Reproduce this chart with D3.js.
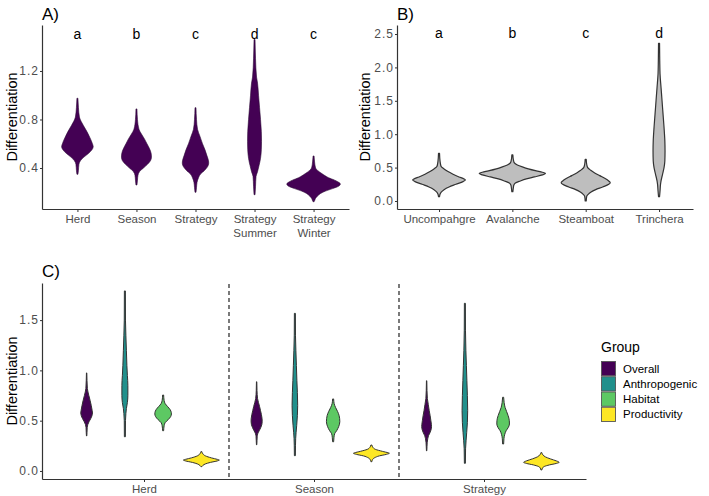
<!DOCTYPE html>
<html><head><meta charset="utf-8">
<script src="https://cdn.jsdelivr.net/npm/d3@7"></script>
<style>
body{margin:0;background:#fff}
text{font-family:"Liberation Sans",Arial,sans-serif}
</style></head><body>
<svg id="c" width="709" height="496"></svg>
<script>
// ---------- Panel A data ----------
const catsA = ["Herd", "Season", "Strategy", "Strategy\nSummer", "Strategy\nWinter"];
const lettersA = ["a", "b", "c", "d", "c"];
const ticksA = [0.4, 0.8, 1.2];
// violin profiles: [value, density(half width)]
const violinHerd = [[0.975,0.5],[0.90,1],[0.82,2],[0.75,6],[0.70,9.5],[0.65,12.5],[0.60,15],[0.576,15.8],[0.55,14.5],[0.52,11],[0.49,6.5],[0.46,3],[0.43,1.5],[0.38,1],[0.348,0.5]];
const violinSeason = [[0.887,0.5],[0.80,1],[0.72,2.5],[0.68,5],[0.64,8],[0.60,10.5],[0.56,13],[0.52,14.7],[0.49,15],[0.46,14],[0.43,11],[0.40,7],[0.37,3],[0.34,1.5],[0.30,1],[0.26,0.5]];
const violinStrategy = [[0.897,0.5],[0.80,1],[0.72,2],[0.66,4.5],[0.60,7],[0.55,9.5],[0.50,11.5],[0.46,13],[0.44,13.2],[0.41,12],[0.38,9],[0.35,5],[0.32,3],[0.28,1.5],[0.24,1],[0.20,0.5]];
const violinSummer = [[1.46,0.5],[1.30,1],[1.15,2],[1.10,3],[1.00,4],[0.90,5],[0.80,6],[0.70,6.8],[0.62,7],[0.55,6.8],[0.48,6],[0.42,4.5],[0.37,3],[0.33,1.5],[0.25,1],[0.18,0.5]];
const violinWinter = [[0.499,0.5],[0.45,1],[0.40,2],[0.38,4],[0.35,9],[0.32,15],[0.30,21],[0.28,25.5],[0.268,26.8],[0.25,25],[0.23,19],[0.21,12],[0.19,7],[0.17,4],[0.15,2],[0.13,1],[0.122,0.5]];

// ---------- Panel B data ----------
const catsB = ["Uncompahgre", "Avalanche", "Steamboat", "Trinchera"];
const lettersB = ["a", "b", "c", "d"];
const ticksB = [0, 0.5, 1.0, 1.5, 2.0, 2.5];
const violinUncompahgre = [[0.714,0.5],[0.60,1],[0.52,2],[0.48,5],[0.44,9],[0.40,14],[0.36,20],[0.33,25],[0.314,26.3],[0.29,24],[0.25,17],[0.21,10],[0.17,5],[0.13,2],[0.10,1],[0.064,0.5]];
const violinAvalanche = [[0.689,0.5],[0.62,1],[0.57,2],[0.54,5],[0.51,10],[0.48,16],[0.45,24],[0.43,30],[0.414,33.2],[0.39,30],[0.36,22],[0.33,14],[0.30,8],[0.27,3],[0.24,1.5],[0.20,1],[0.14,0.5]];
const violinSteamboat = [[0.624,0.5],[0.55,1],[0.50,2],[0.46,5],[0.42,9],[0.38,14],[0.34,19],[0.30,23],[0.274,24.5],[0.25,23],[0.21,17],[0.17,10],[0.13,5],[0.10,2.5],[0.07,1],[0.0,0.5]];
const violinTrinchera = [[2.36,0.5],[2.10,0.7],[1.90,1],[1.70,2],[1.50,3],[1.30,4],[1.10,5],[0.90,5.8],[0.75,6],[0.60,5.8],[0.50,5],[0.40,3.5],[0.30,2],[0.25,1.5],[0.15,1],[0.064,0.5]];

// ---------- Panel C data ----------
const groupsC = ["Herd", "Season", "Strategy"];
const seriesC = ["Overall", "Anthropogenic", "Habitat", "Productivity"];
const colorsC = ["#440154", "#21908C", "#5DC863", "#FDE725"];
const ticksC = [0, 0.5, 1.0, 1.5];
const overallC = [violinHerd, violinSeason, violinStrategy]; // same data as panel A
const anthroHerd = [[1.79,0.5],[1.50,0.6],[1.35,1],[1.20,1.5],[1.05,2],[0.95,2.5],[0.85,3],[0.75,3],[0.68,2.5],[0.62,1.5],[0.57,1],[0.50,0.6],[0.34,0.5]];
const anthroSeason = [[1.567,0.5],[1.35,0.6],[1.20,1],[1.05,1.5],[0.90,2],[0.78,2.5],[0.65,2.8],[0.55,2.5],[0.45,1.8],[0.38,1.2],[0.32,0.8],[0.25,0.6],[0.152,0.5]];
const anthroStrategy = [[1.667,0.5],[1.40,0.6],[1.20,1],[1.05,1.5],[0.90,2],[0.75,2.5],[0.60,2.8],[0.48,2.5],[0.38,1.8],[0.30,1.2],[0.22,0.7],[0.076,0.5]];
const habitatHerd = [[0.755,0.5],[0.70,1],[0.67,2],[0.64,4.5],[0.61,7],[0.58,8.2],[0.567,8.3],[0.54,7.5],[0.51,5],[0.48,2],[0.45,1],[0.40,0.5]];
const habitatSeason = [[0.716,0.5],[0.67,1],[0.63,2.5],[0.59,4.5],[0.55,6],[0.49,6.7],[0.44,5.5],[0.40,3.5],[0.37,1.5],[0.33,0.8],[0.29,0.5]];
const habitatStrategy = [[0.733,0.5],[0.68,1],[0.63,2],[0.59,3.5],[0.55,5],[0.50,6.2],[0.467,6.3],[0.43,5],[0.40,3],[0.36,1.5],[0.32,0.8],[0.268,0.5]];
const prodHerd = [[0.192,0.5],[0.17,1.5],[0.15,4],[0.13,10],[0.115,16],[0.109,18],[0.10,16],[0.085,9],[0.07,4],[0.055,1.5],[0.043,0.5]];
const prodSeason = [[0.258,0.5],[0.235,1.5],[0.215,4],[0.195,11],[0.18,17],[0.176,18],[0.165,15],[0.15,8],[0.13,3],[0.11,1],[0.092,0.5]];
const prodStrategy = [[0.182,0.5],[0.16,1.5],[0.14,4],[0.12,9],[0.10,15],[0.086,17.8],[0.075,15],[0.06,8],[0.045,3],[0.03,1.2],[0.01,0.5]];

// ---------- drawing ----------
const svg = d3.select("#c");
svg.append("rect").attr("width", 709).attr("height", 496).attr("fill", "#fff");
const fmt = d3.format(".1f");
const AXIS = "#333", TICKTXT = "#4D4D4D";

function styleAxis(g, isY) {
  g.select(".domain").attr("stroke", AXIS).attr("stroke-width", 1.2);
  g.selectAll(".tick line").attr("stroke", AXIS).attr("stroke-width", 1);
  const t = g.selectAll(".tick text").attr("fill", TICKTXT)
    .style("font-family", '"Liberation Sans", Arial, sans-serif');
  if (isY) t.style("font-size", "12px").style("letter-spacing", "1px");
  else t.style("font-size", "11.5px");
}
function drawViolin(g, prof, cx, y, w, fill, stroke, sw) {
  const pts = prof.slice().sort((a, b) => b[0] - a[0]);
  const area = d3.area()
    .y(d => y(d[0]))
    .x0(d => cx - w(d[1]))
    .x1(d => cx + w(d[1]))
    .curve(d3.curveMonotoneY);
  g.append("path").attr("d", area(pts)).attr("fill", fill)
    .attr("stroke", stroke).attr("stroke-width", sw).attr("stroke-linejoin", "round");
}
function yTitle(x, yc) {
  svg.append("text").attr("transform", `translate(${x},${yc}) rotate(-90)`)
    .attr("text-anchor", "middle").style("font-size", "14.5px").attr("fill", "#000")
    .text("Differentiation");
}
function tag(x, y, t) {
  svg.append("text").attr("x", x).attr("y", y).style("font-size", "17px").attr("fill", "#000").text(t);
}

// ===== Panel A =====
const xA = d3.scalePoint().domain(catsA).range([42, 349]).padding(0.6);
const yA = d3.scaleLinear().domain([0.062, 1.579]).range([209, 25]);
const wA = d3.scaleLinear().domain([0, 59]).range([0, xA.step()]);
const violinsA = [violinHerd, violinSeason, violinStrategy, violinSummer, violinWinter];
const gA = svg.append("g");
violinsA.forEach((p, i) => drawViolin(gA, p, xA(catsA[i]), yA, wA, "#440154", "#2b0a36", 0.6));
catsA.forEach((c, i) => {
  svg.append("text").attr("x", xA(c)).attr("y", yA(1.5)).attr("dy", "0.3em")
    .attr("text-anchor", "middle").style("font-size", "14px").attr("fill", "#000").text(lettersA[i]);
});
const axAy = svg.append("g").attr("transform", "translate(42,0)")
  .call(d3.axisLeft(yA).tickValues(ticksA).tickFormat(fmt).tickSize(2).tickPadding(1).tickSizeOuter(0));
styleAxis(axAy, true);
const axAx = svg.append("g").attr("transform", "translate(0,209)")
  .call(d3.axisBottom(xA).tickSize(3).tickPadding(3).tickSizeOuter(0));
styleAxis(axAx, false);
axAx.selectAll(".tick text").each(function(d) {
  const t = d3.select(this); const lines = d.split("\n"); t.text(null);
  lines.forEach((l, k) => t.append("tspan").attr("x", 0).attr("dy", k === 0 ? "0.71em" : "1.17em").text(l));
});
yTitle(17, 117);
tag(42, 20, "A)");

// ===== Panel B =====
const xB = d3.scalePoint().domain(catsB).range([397, 693]).padding(0.518).align(0.553);
const yB = d3.scaleLinear().domain([-0.12, 2.635]).range([209, 25]);
const wB = d3.scaleLinear().domain([0, 73.3]).range([0, xB.step()]);
const violinsB = [violinUncompahgre, violinAvalanche, violinSteamboat, violinTrinchera];
const gB = svg.append("g");
violinsB.forEach((p, i) => drawViolin(gB, p, xB(catsB[i]), yB, wB, "#BEBEBE", "#333", 1.2));
catsB.forEach((c, i) => {
  svg.append("text").attr("x", xB(c)).attr("y", yB(2.5)).attr("dy", "0.3em")
    .attr("text-anchor", "middle").style("font-size", "14px").attr("fill", "#000").text(lettersB[i]);
});
const axBy = svg.append("g").attr("transform", "translate(397,0)")
  .call(d3.axisLeft(yB).tickValues(ticksB).tickFormat(fmt).tickSize(2).tickPadding(1).tickSizeOuter(0));
styleAxis(axBy, true);
const axBx = svg.append("g").attr("transform", "translate(0,209)")
  .call(d3.axisBottom(xB).tickSize(3).tickPadding(3).tickSizeOuter(0));
styleAxis(axBx, false);
yTitle(370, 117);
tag(397, 20, "B)");

// ===== Panel C =====
const xC = d3.scalePoint().domain(groupsC).range([42, 586]).padding(0.6);
const yC = d3.scaleLinear().domain([-0.08, 1.869]).range([479, 283]);
const dodge = d3.scaleBand().domain(seriesC).range([-0.45 * xC.step(), 0.45 * xC.step()]);
const wC = d3.scaleLinear().domain([0, 38.25]).range([0, dodge.bandwidth()]);
const wCo = d3.scaleLinear().domain([0, 59 / 0.37]).range([0, dodge.bandwidth() * 59 / 38.25]);
const seriesProfiles = [overallC, [anthroHerd, anthroSeason, anthroStrategy],
  [habitatHerd, habitatSeason, habitatStrategy], [prodHerd, prodSeason, prodStrategy]];
const gC = svg.append("g");
groupsC.slice(0, -1).forEach(gname => {
  const xs = xC(gname) + xC.step() / 2;
  gC.append("line").attr("x1", xs).attr("x2", xs).attr("y1", 284).attr("y2", 479)
    .attr("stroke", "#333").attr("stroke-width", 1.3).attr("stroke-dasharray", "4,3");
});
groupsC.forEach((gname, gi) => {
  seriesC.forEach((s, si) => {
    const cx = xC(gname) + dodge(s) + dodge.bandwidth() / 2;
    drawViolin(gC, seriesProfiles[si][gi], cx, yC, si === 0 ? wCo : wC, colorsC[si], "#333", 1);
  });
});
const axCy = svg.append("g").attr("transform", "translate(42,0)")
  .call(d3.axisLeft(yC).tickValues(ticksC).tickFormat(fmt).tickSize(2).tickPadding(1).tickSizeOuter(0));
styleAxis(axCy, true);
const axCx = svg.append("g").attr("transform", "translate(0,479)")
  .call(d3.axisBottom(xC).tickSize(3).tickPadding(3).tickSizeOuter(0));
styleAxis(axCx, false);
yTitle(17, 381);
tag(42, 277, "C)");

// legend
const lg = svg.append("g");
lg.append("text").attr("x", 601).attr("y", 352).style("font-size", "14px").attr("fill", "#000").text("Group");
seriesC.forEach((s, i) => {
  const ky = 361 + i * 15.25;
  lg.append("rect").attr("x", 601.5).attr("y", ky + 0.5).attr("width", 14).attr("height", 14.25)
    .attr("fill", colorsC[i]).attr("stroke", "#555").attr("stroke-width", 0.9);
  lg.append("text").attr("x", 623).attr("y", ky + 7.6).attr("dy", "0.35em")
    .style("font-size", "11.5px").attr("fill", "#000").text(s);
});
</script>
</body></html>
